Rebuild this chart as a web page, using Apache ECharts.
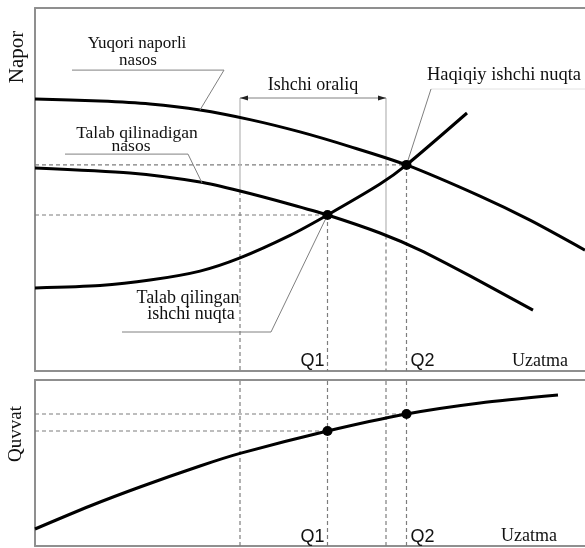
<!DOCTYPE html>
<html>
<head>
<meta charset="utf-8">
<script src="https://cdn.jsdelivr.net/npm/echarts@6/dist/echarts.min.js"></script>
<style>
html, body { margin: 0; padding: 0; background: #fff; }
#main { width: 585px; height: 548px; }
</style>
</head>
<body>
<div id="main"></div>
<script>
// Uzatma (flow) positions with Napor (head) readings for each curve
const qHigh = [0, 13, 23, 33, 43, 53, 63, 74.3, 89, 99, 110];
const hHigh = [90.7, 90, 89, 87, 83.8, 79.7, 74.8, 68.7, 58.3, 50.3, 40.3];
const qReq = [0, 19, 33, 41, 51, 58.5, 69, 77, 87, 99.6];
const hReq = [67.7, 66, 63, 60, 55.6, 52, 46, 40.3, 31.7, 20.3];
const qSys = [0, 13, 23, 33, 41, 51, 58.5, 69, 74.3, 86.4];
const hSys = [27.7, 28.5, 30.3, 33.3, 37.7, 45.2, 52, 62.3, 68.7, 86];
// Quvvat (power) curve
const qPow = [0, 11, 21, 33, 41, 58.5, 74.3, 89, 104.6];
const pPow = [8.5, 20, 29.5, 40, 46.3, 57.5, 66, 71.5, 75.5];
// operating points Q1, Q2
const pointNames = ['Q1', 'Q2'];
const qOp = [58.5, 74.3];
const hOp = [52, 68.7];
const pOp = [57.5, 66];
// Ishchi oraliq (working range) bounds
const qRange = [41, 70.2];
const hRangeTop = 91;

const zip = (a, b) => a.map((v, i) => [v, b[i]]);
function interp(xs, ys, x) {
  for (let i = 1; i < xs.length; i++) {
    if (x <= xs[i]) {
      const t = (x - xs[i - 1]) / (xs[i] - xs[i - 1]);
      return ys[i - 1] + t * (ys[i] - ys[i - 1]);
    }
  }
  return ys[ys.length - 1];
}

const Q_MAX = 110, TOP_MAX = 121, BOT_MAX = 83;

function curve(g, data) {
  return {
    type: 'line', xAxisIndex: g, yAxisIndex: g, data: data,
    smooth: 0.25, symbol: 'none', silent: true, z: 3,
    lineStyle: { color: '#000', width: 3 }
  };
}
function guide(g, data, solid) {
  return {
    type: 'line', xAxisIndex: g, yAxisIndex: g, data: data,
    symbol: 'none', silent: true, z: 1,
    lineStyle: { color: solid ? '#b5b5b5' : '#7d7d7d', width: 1.2, type: solid ? 'solid' : [4, 3] }
  };
}
function dots(g, data) {
  return {
    type: 'scatter', xAxisIndex: g, yAxisIndex: g, data: data,
    symbolSize: 10, silent: true, z: 6, itemStyle: { color: '#000', opacity: 1 }
  };
}

const series = [
  curve(0, zip(qHigh, hHigh)),
  curve(0, zip(qReq, hReq)),
  curve(0, zip(qSys, hSys)),
  curve(1, zip(qPow, pPow)),
  dots(0, zip(qOp, hOp)),
  dots(1, zip(qOp, pOp))
];
qOp.forEach((q, i) => {
  series.push(guide(0, [[0, hOp[i]], [q, hOp[i]]]));
  series.push(guide(0, [[q, hOp[i]], [q, 0]]));
  series.push(guide(1, [[0, pOp[i]], [q, pOp[i]]]));
  series.push(guide(1, [[q, 0], [q, BOT_MAX]]));
});
qRange.forEach((q) => {
  const hc = interp(qReq, hReq, q);
  series.push(guide(0, [[q, hRangeTop], [q, hc]], true));
  series.push(guide(0, [[q, hc], [q, 0]]));
  series.push(guide(1, [[q, 0], [q, BOT_MAX]]));
});

const frame = { show: true, onZero: false, lineStyle: { color: '#8f8f8f', width: 2 } };
const bare = { axisTick: { show: false }, axisLabel: { show: false }, splitLine: { show: false } };
const axisX = (g, pos) => Object.assign({ gridIndex: g, type: 'value', min: 0, max: Q_MAX, position: pos, axisLine: frame }, bare);
const axisY = (g, max) => Object.assign({ gridIndex: g, type: 'value', min: 0, max: max, position: 'left', axisLine: frame }, bare);

const option = {
  animation: false,
  backgroundColor: '#fff',
  grid: [
    { left: 35, top: 8, right: 0, height: 363 },
    { left: 35, top: 380, right: 0, height: 166 }
  ],
  xAxis: [axisX(0, 'bottom'), axisX(1, 'bottom'), axisX(0, 'top'), axisX(1, 'top')],
  yAxis: [axisY(0, TOP_MAX), axisY(1, BOT_MAX)],
  series: series
};

const chart = echarts.init(document.getElementById('main'));
chart.setOption(option);

const topPx = (x, y) => chart.convertToPixel({ gridIndex: 0 }, [x, y]);
const botPx = (x, y) => chart.convertToPixel({ gridIndex: 1 }, [x, y]);

const serif = '"Liberation Serif", "Times New Roman", serif';
const sans = '"Liberation Sans", Arial, sans-serif';
function txt(s, x, y, size, font, align, rot) {
  return {
    type: 'text', x: x, y: y, rotation: rot || 0, silent: true, z: 10,
    style: { text: s, fill: '#111', font: size + 'px ' + font, align: align || 'center', verticalAlign: 'middle' }
  };
}
function leader(points, color) {
  return {
    type: 'polyline', silent: true, z: 5,
    shape: { points: points },
    style: { stroke: color || '#808080', lineWidth: 1, fill: null }
  };
}

const graphic = [];
// axis titles
graphic.push(txt('Napor', 17, 57, 21, serif, 'center', Math.PI / 2));
graphic.push(txt('Quvvat', 16, 434, 19, serif, 'center', Math.PI / 2));

// curve names
graphic.push(txt('Yuqori naporli', 137, 44, 17, serif));
graphic.push(txt('nasos', 138, 61, 17, serif));
graphic.push(leader([topPx(7.4, 100.3), topPx(37.8, 100.3), topPx(33, 87)]));

graphic.push(txt('Talab qilinadigan', 137, 133, 17.5, serif));
graphic.push(txt('nasos', 131, 146, 17.5, serif));
graphic.push(leader([topPx(6, 72.3), topPx(30.6, 72.3), topPx(33.4, 62.7)]));

graphic.push(txt('Haqiqiy ishchi nuqta', 504, 75, 18.5, serif));
graphic.push(leader([topPx(110, 94), topPx(79.2, 94)], '#e2e2e2'));
graphic.push(leader([topPx(79.2, 94), topPx(qOp[1], hOp[1])]));

graphic.push(txt('Talab qilingan', 188, 298, 18, serif));
graphic.push(txt('ishchi nuqta', 191, 314, 18, serif));
graphic.push(leader([topPx(17.4, 13), topPx(47.2, 13), topPx(qOp[0], hOp[0])]));

// working range bracket with arrows
const aL = topPx(qRange[0], hRangeTop), aR = topPx(qRange[1], hRangeTop);
graphic.push({ type: 'line', silent: true, z: 5, shape: { x1: aL[0], y1: aL[1], x2: aR[0], y2: aR[1] }, style: { stroke: '#808080', lineWidth: 1 } });
graphic.push({ type: 'polygon', silent: true, z: 5, shape: { points: [[aL[0], aL[1]], [aL[0] + 8, aL[1] - 2.5], [aL[0] + 8, aL[1] + 2.5]] }, style: { fill: '#222' } });
graphic.push({ type: 'polygon', silent: true, z: 5, shape: { points: [[aR[0], aR[1]], [aR[0] - 8, aR[1] - 2.5], [aR[0] - 8, aR[1] + 2.5]] }, style: { fill: '#222' } });
graphic.push(txt('Ishchi oraliq', (aL[0] + aR[0]) / 2, aL[1] - 13, 18, serif));

// Q labels and Uzatma on both panels
pointNames.forEach((n, i) => {
  const t = topPx(qOp[i], 0), b = botPx(qOp[i], 0);
  const dx = i === 0 ? -3 : 4;
  const al = i === 0 ? 'right' : 'left';
  graphic.push(txt(n, t[0] + dx, t[1] - 10, 18, sans, al));
  graphic.push(txt(n, b[0] + dx, b[1] - 9, 18, sans, al));
});
graphic.push(txt('Uzatma', 540, 361, 18, serif));
graphic.push(txt('Uzatma', 529, 536, 18, serif));

chart.setOption({ graphic: graphic });
</script>
</body>
</html>
